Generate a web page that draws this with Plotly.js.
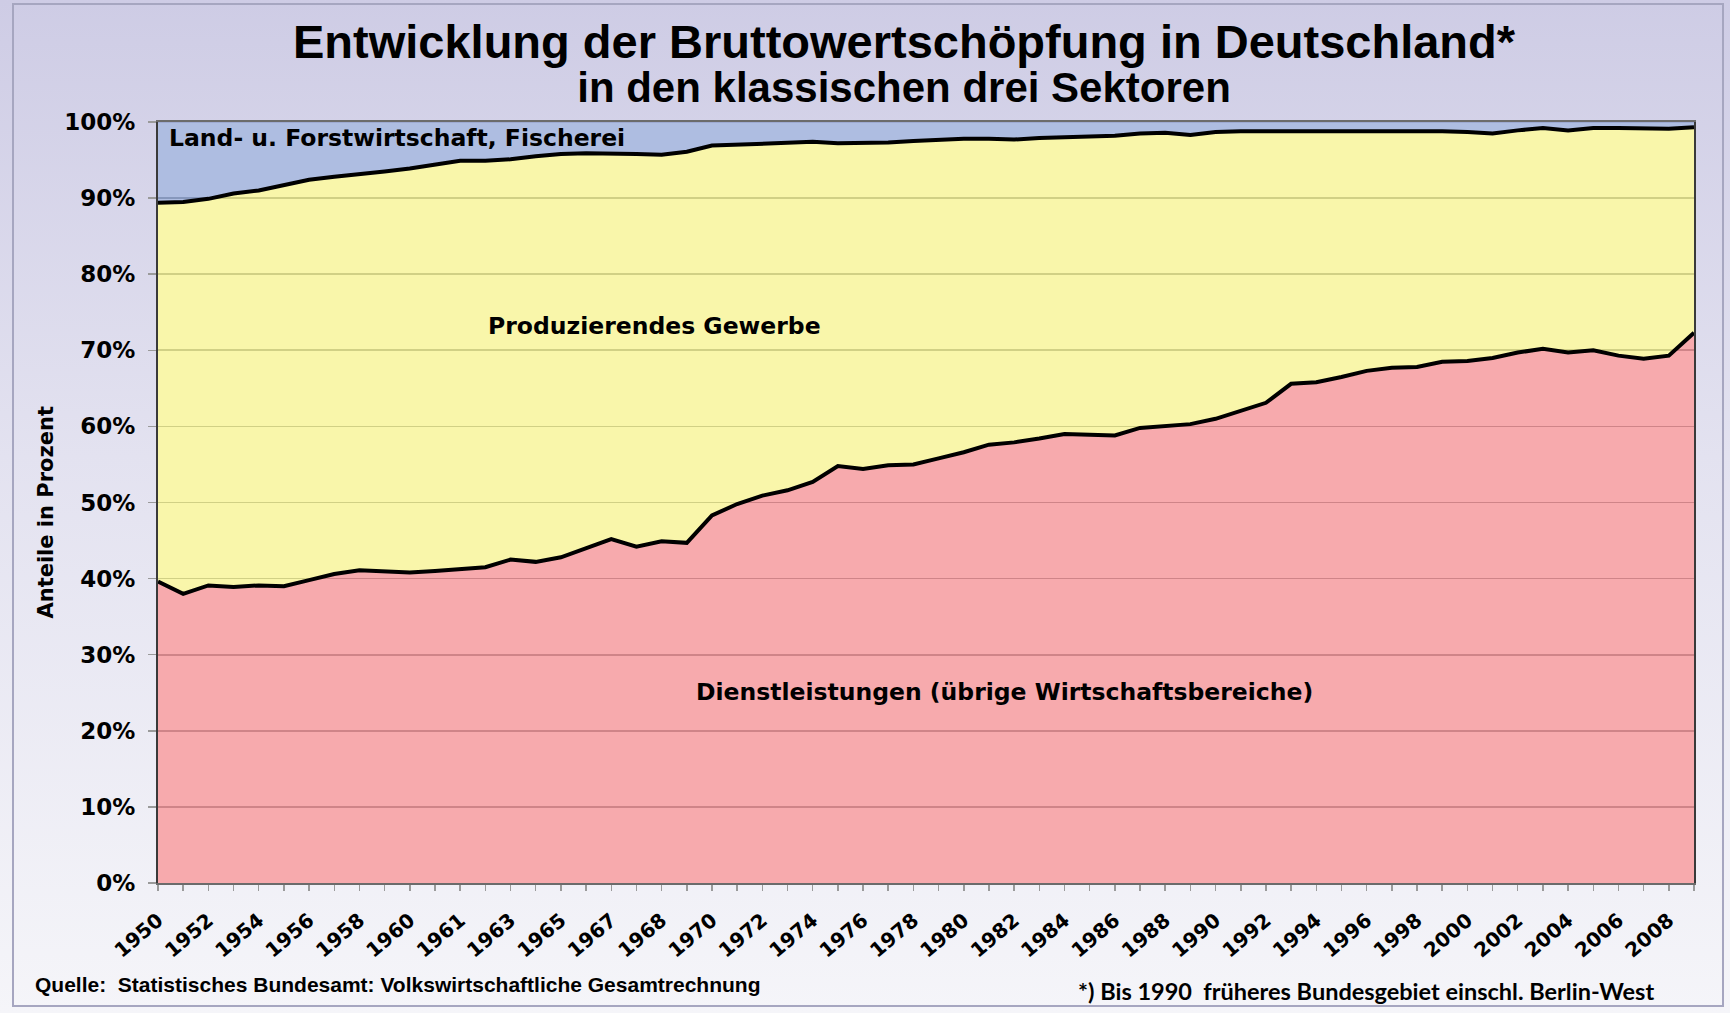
<!DOCTYPE html>
<html>
<head>
<meta charset="utf-8">
<script src="https://cdn.plot.ly/plotly-3.0.1.min.js"></script>
<style>
  html, body { margin: 0; padding: 0; }
  body { width: 1730px; height: 1013px; overflow: hidden;
         background: linear-gradient(to bottom, #cecce5 0%, #e3e2f0 45%, #f5f5f9 100%); }
  #frame { position: absolute; left: 12px; top: 3px; width: 1712px; height: 1004px;
           border: 2px solid #a6a6c0; box-sizing: border-box; pointer-events: none; }
  #chart { position: absolute; left: 0; top: 0; width: 1730px; height: 1013px; }
</style>
</head>
<body>
<div id="frame"></div>
<div id="chart"></div>
<script>
// Category labels (statistical years; 1960 appears twice because of a series break)
const years = ["1950","1951","1952","1953","1954","1955","1956","1957","1958","1959",
  "1960","1960","1961","1962","1963","1964","1965","1966","1967","1967",
  "1968","1969","1970","1971","1972","1973","1974","1975","1976","1977",
  "1978","1979","1980","1981","1982","1983","1984","1985","1986","1987",
  "1988","1989","1990","1991","1992","1993","1994","1995","1996","1997",
  "1998","1999","2000","2001","2002","2003","2004","2005","2006","2007",
  "2008","2009"];

// Shares of gross value added, in percent
const dienstleistungen = [39.6,38.0,39.1,38.9,39.1,39.0,39.8,40.6,41.1,40.9,
  40.8,41.0,41.3,41.5,42.5,42.2,42.8,44.0,45.2,44.2,
  44.9,44.7,48.3,49.8,50.9,51.6,52.7,54.8,54.4,54.9,
  55.0,55.8,56.6,57.6,57.9,58.4,59.0,58.9,58.8,59.8,
  60.0,60.3,61.0,62.0,63.1,65.6,65.8,66.5,67.3,67.7,
  67.8,68.5,68.6,69.0,69.7,70.2,69.7,70.0,69.3,68.9,
  69.3,72.3];
const produzierendes = [49.8,51.5,50.8,51.7,51.9,52.7,52.6,52.2,52.0,52.6,
  53.1,53.4,53.6,53.4,52.6,53.3,53.0,51.9,50.7,51.6,
  50.8,51.4,48.6,47.2,46.2,45.6,44.7,42.4,42.8,42.4,
  42.5,41.9,41.2,40.2,39.8,39.5,39.0,39.2,39.4,38.7,
  38.6,38.0,37.7,36.8,35.7,33.3,33.1,32.3,31.5,31.1,
  31.0,30.3,30.1,29.5,29.2,29.0,29.2,29.2,29.9,30.2,
  29.8,27.0];
const landwirtschaft = [10.6,10.5,10.1,9.4,9.0,8.3,7.6,7.2,6.9,6.5,
  6.1,5.6,5.1,5.1,4.9,4.5,4.2,4.1,4.1,4.2,
  4.3,3.9,3.1,3.0,2.9,2.8,2.6,2.8,2.8,2.7,
  2.5,2.3,2.2,2.2,2.3,2.1,2.0,1.9,1.8,1.5,
  1.4,1.7,1.3,1.2,1.2,1.1,1.1,1.2,1.2,1.2,
  1.2,1.2,1.3,1.5,1.1,0.8,1.1,0.8,0.8,0.9,
  0.9,0.7];

const seriesNames = ["Dienstleistungen (übrige Wirtschaftsbereiche)",
  "Produzierendes Gewerbe", "Land- u. Forstwirtschaft, Fischerei"];
const yTicks = [0,10,20,30,40,50,60,70,80,90,100];

const idx = years.map((_, i) => i);
const tickIdx = idx.filter(i => i % 2 === 0);
const tickText = tickIdx.map(i => years[i]);

const common = { x: idx, type: 'scatter', mode: 'lines', stackgroup: 'one', hoverinfo: 'x+y+name' };
const traces = [
  Object.assign({}, common, { y: dienstleistungen, name: seriesNames[0],
    line: { color: '#000000', width: 4 }, fillcolor: 'rgba(245,149,153,0.8)' }),
  Object.assign({}, common, { y: produzierendes, name: seriesNames[1],
    line: { color: '#000000', width: 4 }, fillcolor: 'rgba(248,244,149,0.8)' }),
  Object.assign({}, common, { y: landwirtschaft, name: seriesNames[2],
    line: { color: '#8e97c4', width: 1 }, fillcolor: 'rgba(154,173,218,0.8)' })
];

const boldDV = 'DejaVu Sans';
const layout = {
  width: 1730, height: 1013,
  margin: { l: 158, r: 36, t: 122, b: 130 },
  paper_bgcolor: 'rgba(0,0,0,0)',
  plot_bgcolor: '#ffffff',
  showlegend: false,
  xaxis: {
    range: [0, idx.length - 1],
    tickmode: 'array', tickvals: tickIdx, ticktext: tickText,
    tickangle: -40,
    ticks: 'outside', ticklen: 6, tickcolor: '#9a9a9a', tickwidth: 1.5,
    ticklabelstandoff: 10,
    showgrid: false, zeroline: false,
    showline: true, linecolor: '#6b6b6b', linewidth: 2, mirror: true,
    tickfont: { family: boldDV, size: 20, color: '#000', weight: 'bold' },
    minor: { tickmode: 'linear', dtick: 1, ticks: 'outside', ticklen: 6, tickcolor: '#9a9a9a', tickwidth: 1.5, showgrid: false }
  },
  yaxis: {
    range: [0, 100],
    tickmode: 'array', tickvals: yTicks, ticktext: yTicks.map(v => v + '%'),
    ticks: 'outside', ticklen: 8, tickcolor: '#9a9a9a', tickwidth: 1.5,
    ticklabelstandoff: 8,
    showgrid: true, gridcolor: '#3a4248', gridwidth: 1.6,
    zeroline: false,
    showline: true, linecolor: '#3a3a3a', linewidth: 2, mirror: true,
    tickfont: { family: boldDV, size: 23, color: '#000', weight: 'bold' }
  },
  annotations: [
    { text: '<b><span style="font-size:47px">Entwicklung der Bruttowertschöpfung in Deutschland*</span><br>' +
            '<span style="font-size:42px">in den klassischen drei Sektoren</span></b>',
      xref: 'paper', yref: 'paper',
      x: 0.4863, y: 1.0776, xanchor: 'center', yanchor: 'middle', showarrow: false,
      font: { family: 'Liberation Sans', size: 34, color: '#000' } },
    { text: '<b>' + seriesNames[2] + '</b>', xref: 'paper', yref: 'paper',
      x: 0.006, y: 0.979, xanchor: 'left', yanchor: 'middle', showarrow: false,
      font: { family: boldDV, size: 23.5, color: '#000' } },
    { text: '<b>' + seriesNames[1] + '</b>', xref: 'paper', yref: 'paper',
      x: 0.323, y: 0.7316, xanchor: 'center', yanchor: 'middle', showarrow: false,
      font: { family: boldDV, size: 23.5, color: '#000' } },
    { text: '<b>' + seriesNames[0] + '</b>', xref: 'paper', yref: 'paper',
      x: 0.5514, y: 0.2513, xanchor: 'center', yanchor: 'middle', showarrow: false,
      font: { family: boldDV, size: 23.5, color: '#000' } },
    { text: '<b>Anteile in Prozent</b>', xref: 'paper', yref: 'paper',
      x: -0.0729, y: 0.4868, xanchor: 'center', yanchor: 'middle', showarrow: false, textangle: -90,
      font: { family: boldDV, size: 21, color: '#000' } },
    { text: '<b>Quelle:  Statistisches Bundesamt: Volkswirtschaftliche Gesamtrechnung</b>', xref: 'paper', yref: 'paper',
      x: -0.0814, y: -0.1329, xanchor: 'left', yanchor: 'middle', showarrow: false,
      font: { family: 'Liberation Sans', size: 21, color: '#000' } },
    { text: '<b>*) Bis 1990  früheres Bundesgebiet einschl. Berlin-West</b>', xref: 'paper', yref: 'paper',
      x: 0.5977, y: -0.1421, xanchor: 'left', yanchor: 'middle', showarrow: false,
      font: { family: 'Lato', size: 23.5, color: '#000' } }
  ]
};

Plotly.newPlot('chart', traces, layout, { displayModeBar: false, staticPlot: true });
</script>
</body>
</html>
